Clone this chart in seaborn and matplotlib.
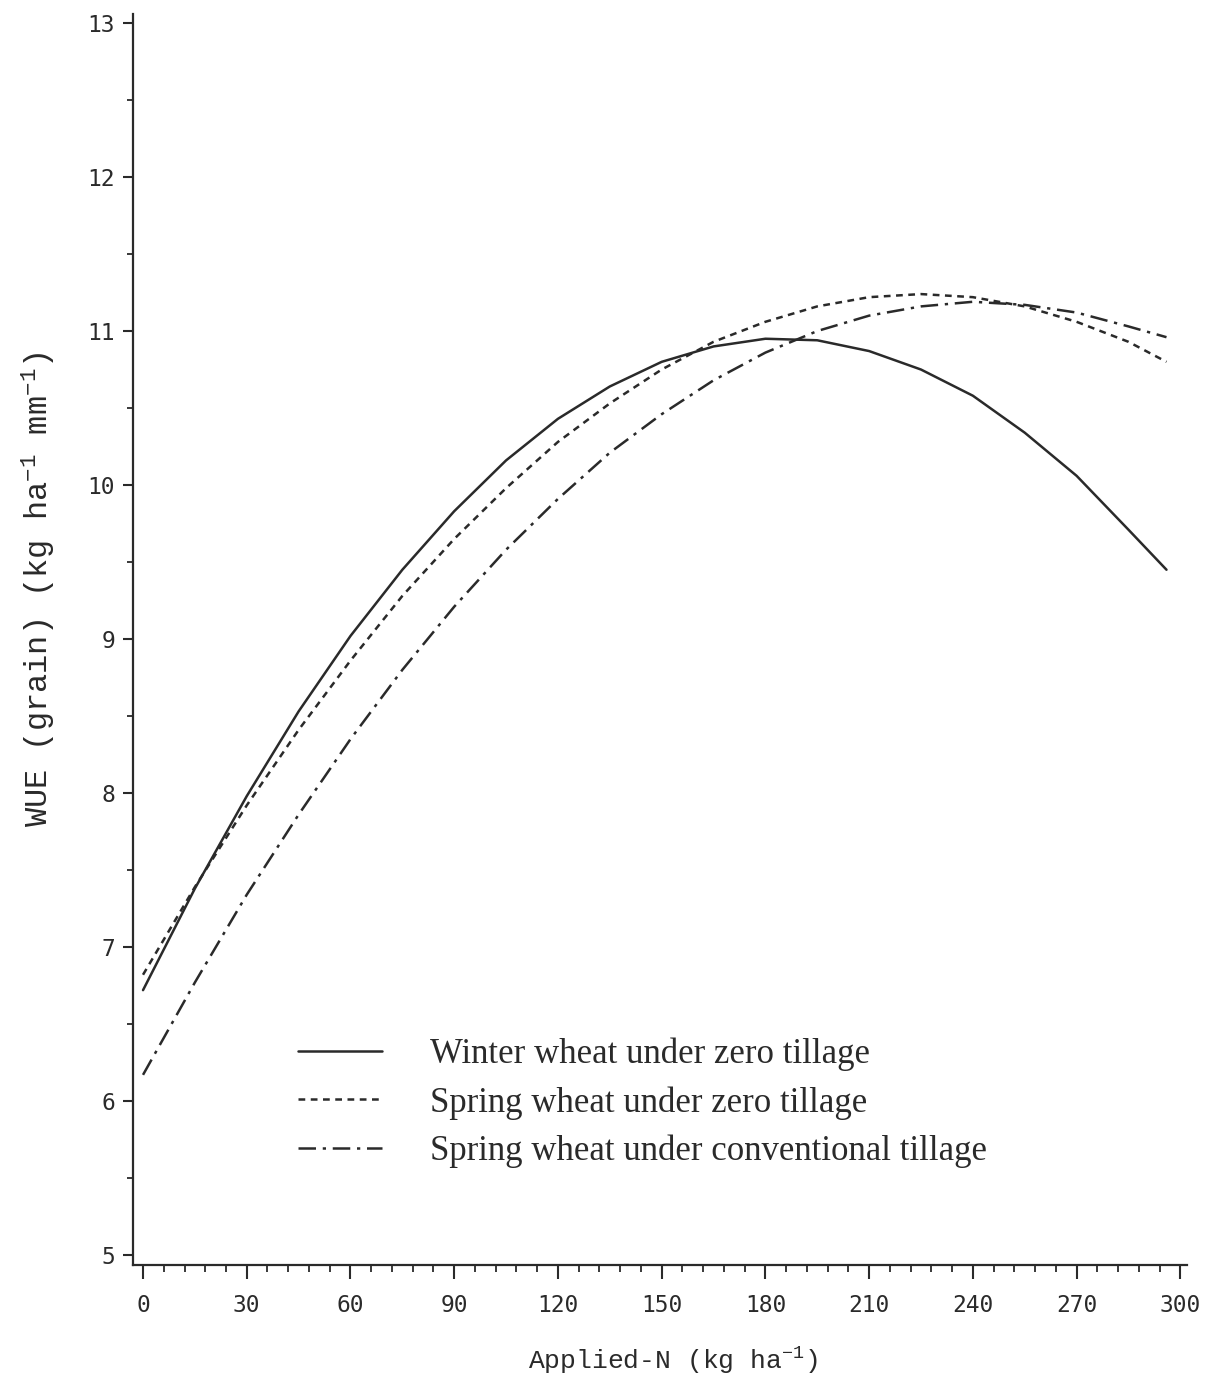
#!/usr/bin/env python3
import pandas as pd
import matplotlib
matplotlib.use('Agg')
import matplotlib.pyplot as plt
from matplotlib.ticker import MultipleLocator
import seaborn as sns

applied_n = [0, 15, 30, 45, 60, 75, 90, 105, 120, 135, 150, 165, 180,
             195, 210, 225, 240, 255, 270, 285, 296]

# WUE (grain) values
winter_zero = [6.72, 7.38, 7.98, 8.53, 9.02, 9.45, 9.83, 10.16, 10.43, 10.64,
               10.80, 10.90, 10.95, 10.94, 10.87, 10.75, 10.58, 10.34, 10.06,
               9.71, 9.45]
spring_zero = [6.82, 7.39, 7.92, 8.41, 8.86, 9.28, 9.65, 9.98, 10.28, 10.53,
               10.75, 10.93, 11.06, 11.16, 11.22, 11.24, 11.22, 11.16, 11.06,
               10.93, 10.80]
spring_conv = [6.17, 6.77, 7.34, 7.86, 8.35, 8.80, 9.21, 9.58, 9.91, 10.21,
               10.46, 10.68, 10.86, 11.00, 11.10, 11.16, 11.19, 11.17, 11.12,
               11.03, 10.96]

series_labels = ['Winter wheat under zero tillage',
                 'Spring wheat under zero tillage',
                 'Spring wheat under conventional tillage']

x_ticks = [0, 30, 60, 90, 120, 150, 180, 210, 240, 270, 300]
y_ticks = [5, 6, 7, 8, 9, 10, 11, 12, 13]

INK = '#2a2a2a'


def build_frame():
    """Long format table, one row per point"""
    rows = []
    for label, vals in zip(series_labels, [winter_zero, spring_zero, spring_conv]):
        for x, y in zip(applied_n, vals):
            rows.append({'applied_n': x, 'wue': y, 'series': label})
    return pd.DataFrame(rows)


def plot_wue(df):
    sns.set_style('ticks')
    plt.rcParams['font.family'] = ['DejaVu Sans Mono', 'DejaVu Sans']
    # superscripts in the axis labels drawn in the typewriter face
    plt.rcParams['mathtext.fontset'] = 'custom'
    plt.rcParams['mathtext.rm'] = 'Liberation Mono'
    plt.rcParams['mathtext.default'] = 'rm'

    fig = plt.figure(figsize=(12.09, 13.8), dpi=100)
    ax = fig.add_axes([0.110, 0.0833, 0.872, 0.9067])

    line_styles = {
        series_labels[0]: '-',
        series_labels[1]: (0, (2.7, 2.2)),
        series_labels[2]: (0, (7, 2.7, 1.3, 2.7)),
    }
    for label in series_labels:
        sub = df[df['series'] == label]
        sns.lineplot(data=sub, x='applied_n', y='wue', ax=ax, color=INK,
                     linewidth=1.8, linestyle=line_styles[label], label=label)

    ax.set_xlim(-2.9, 302)
    ax.set_ylim(4.935, 13.06)
    ax.set_xticks(x_ticks)
    ax.set_yticks(y_ticks)
    ax.xaxis.set_minor_locator(MultipleLocator(6))
    ax.yaxis.set_minor_locator(MultipleLocator(0.5))

    ax.tick_params(axis='both', which='major', direction='out', color=INK,
                   width=1.5, labelsize=16.5, labelcolor=INK)
    ax.tick_params(axis='x', which='major', length=10, pad=11)
    ax.tick_params(axis='y', which='major', length=7, pad=6)
    ax.tick_params(axis='x', which='minor', direction='out', length=5, width=1.3, color=INK)
    ax.tick_params(axis='y', which='minor', direction='out', length=4, width=1.3, color=INK)

    sns.despine(ax=ax)
    for side in ['left', 'bottom']:
        ax.spines[side].set_linewidth(1.6)
        ax.spines[side].set_color(INK)

    ax.set_xlabel('Applied-N (kg ha$^{-1}$)', fontsize=19,
                  family='Liberation Mono', color=INK)
    ax.xaxis.set_label_coords(0.512, -0.064)
    ax.set_ylabel('WUE (grain) (kg ha$^{-1}$ mm$^{-1}$)', fontsize=23,
                  family='Liberation Mono', color=INK)
    ax.yaxis.set_label_coords(-0.071, 0.54)

    handles, labels = ax.get_legend_handles_labels()
    ax.legend(handles, labels, loc='upper left', bbox_to_anchor=(0.1566, 0.182),
              frameon=False, borderpad=0, borderaxespad=0, handlelength=2.42,
              handletextpad=1.38, labelspacing=0.44,
              prop={'family': 'Liberation Serif', 'size': 25})
    for text in ax.get_legend().get_texts():
        text.set_color(INK)

    fig.savefig('out.png', dpi=100)
    plt.close(fig)


def main():
    df = build_frame()
    plot_wue(df)


if __name__ == "__main__":
    main()
